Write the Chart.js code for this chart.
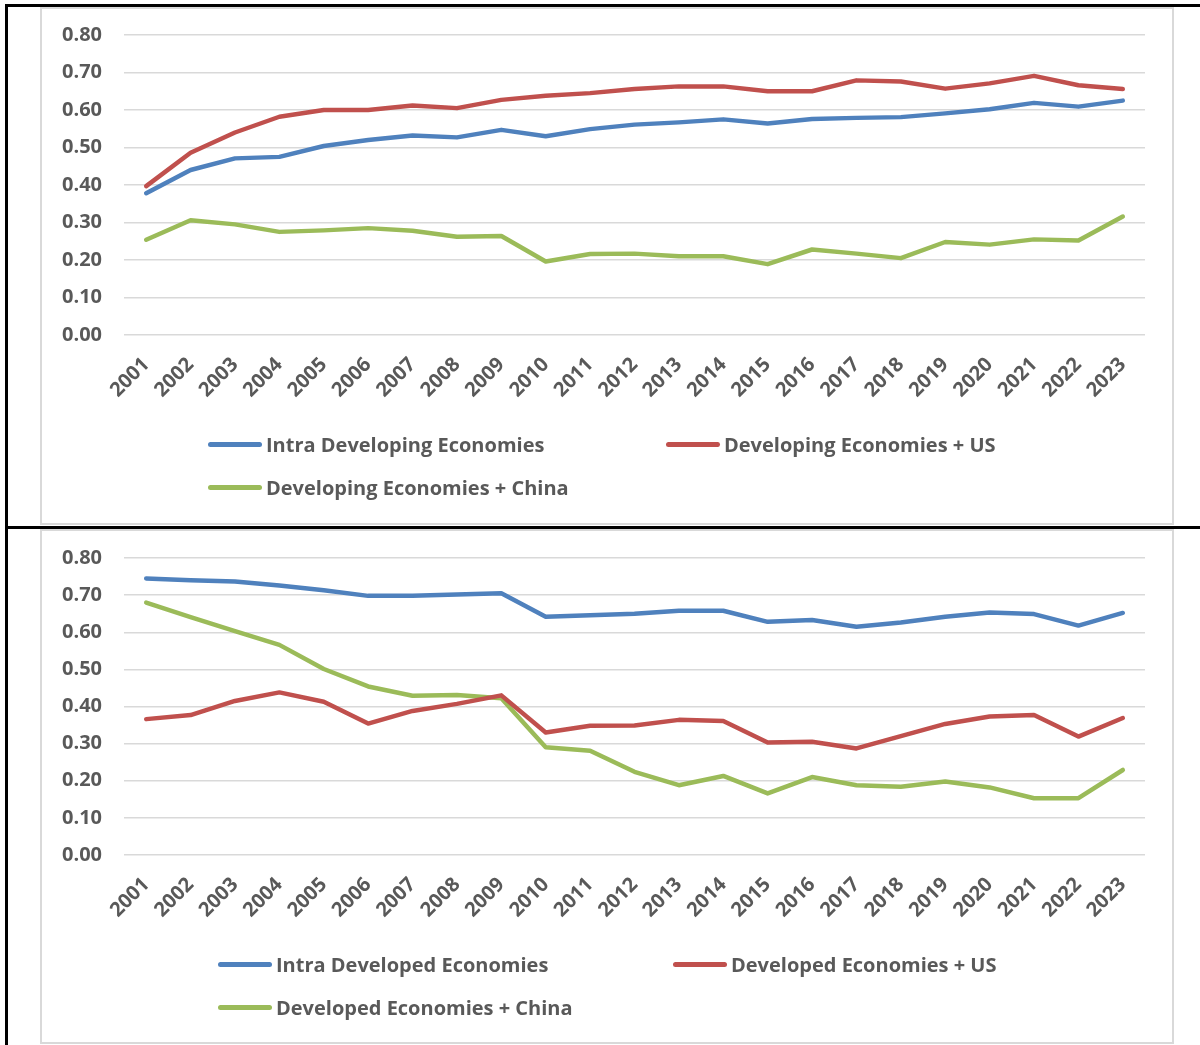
<!DOCTYPE html>
<html>
<head>
<meta charset="utf-8">
<script src="https://cdn.jsdelivr.net/npm/chart.js"></script>
<style>
  body { margin: 0; background: #fff; width: 1200px; height: 1045px; position: relative; overflow: hidden; font-family: "Open Sans", sans-serif; }
  .rule { position: absolute; background: #000; }
  .frame { position: absolute; border: 2px solid #d9d9d9; box-sizing: border-box; background: #fff; }
  .box { position: absolute; }
  .leg { position: absolute; display: flex; align-items: center; color: #595959; font-size: 20px; font-weight: 700; white-space: nowrap; }
  .leg span.line { display: inline-block; width: 54px; height: 5px; border-radius: 3px; margin-right: 4px; }
</style>
</head>
<body>
<div class="rule" style="left:5px; top:4px; width:1195px; height:3px;"></div>
<div class="rule" style="left:5px; top:4px; width:3px; height:1041px;"></div>
<div class="rule" style="left:5px; top:526px; width:1195px; height:3px;"></div>

<div class="frame" style="left:40px; top:7px; width:1134px; height:518px;"></div>
<div class="frame" style="left:40px; top:529px; width:1134px; height:515px;"></div>

<div class="box" style="left:42px; top:7px; width:1130px; height:516px;"><canvas id="developingChart"></canvas></div>
<div class="box" style="left:42px; top:530px; width:1130px; height:512px;"><canvas id="developedChart"></canvas></div>

<div id="developingLegend"></div>
<div id="developedLegend"></div>

<script>
const years = ['2001','2002','2003','2004','2005','2006','2007','2008','2009','2010','2011','2012',
    '2013','2014','2015','2016','2017','2018','2019','2020','2021','2022','2023']

// top panel
const intraDeveloping = [0.378,0.440,0.471,0.475,0.504,0.520,0.532,0.527,0.547,0.530,0.549,0.561,
    0.567,0.575,0.564,0.576,0.579,0.581,0.591,0.602,0.619,0.609,0.625]
const developingUS = [0.397,0.486,0.540,0.582,0.600,0.600,0.612,0.605,0.627,0.638,0.645,0.656,
    0.663,0.663,0.650,0.650,0.679,0.676,0.657,0.671,0.691,0.666,0.656]
const developingChina = [0.254,0.306,0.295,0.275,0.279,0.285,0.278,0.262,0.264,0.196,0.216,0.217,
    0.210,0.210,0.189,0.228,0.217,0.205,0.248,0.241,0.255,0.252,0.316]

// bottom panel
const intraDeveloped = [0.745,0.740,0.737,0.726,0.713,0.698,0.698,0.702,0.705,0.642,0.646,0.650,
    0.658,0.658,0.628,0.633,0.615,0.626,0.642,0.653,0.649,0.618,0.652]
const developedUS = [0.366,0.377,0.415,0.438,0.413,0.354,0.388,0.407,0.430,0.330,0.348,0.349,
    0.364,0.361,0.303,0.305,0.287,0.320,0.353,0.373,0.377,0.319,0.369]
const developedChina = [0.680,0.641,0.603,0.566,0.501,0.454,0.429,0.431,0.422,0.290,0.281,0.224,
    0.188,0.213,0.166,0.210,0.188,0.184,0.198,0.182,0.153,0.153,0.229]

const yTicks = [0,0.1,0.2,0.3,0.4,0.5,0.6,0.7,0.8]

const blue = '#4f81bd'
const red = '#c0504d'
const green = '#9bbb59'
const tickFont = { family: 'Open Sans', size: 20, weight: 'bold' }

function lineChart(canvasId, series, names, padTop, padBottom){
    const colors = [blue, red, green]
    const data = {
        labels: years,
        datasets: series.map((s, i) => {
            return {
                label: names[i],
                data: s,
                borderColor: colors[i],
                backgroundColor: colors[i],
                borderWidth: 4.5,
                borderCapStyle: 'round',
                borderJoinStyle: 'round',
                pointRadius: 0,
                tension: 0
            }
        })
    }

    const config = {
        type: 'line',
        data: data,
        options: {
            responsive: true,
            maintainAspectRatio: false,
            animation: false,
            layout: { padding: { left: 0, right: 27, top: padTop, bottom: padBottom } },
            plugins: {
                legend: { display: false },
                tooltip: { enabled: false }
            },
            scales: {
                x: {
                    offset: true,
                    grid: { display: false, drawTicks: false },
                    border: { display: false },
                    ticks: { color: '#595959', font: tickFont, minRotation: 45, maxRotation: 45, padding: 18, autoSkip: false },
                    afterFit: (scale) => {
                        scale.height = 100
                        scale.paddingLeft = 0
                        scale.paddingRight = 0
                    }
                },
                y: {
                    min: 0,
                    max: 0.8,
                    afterBuildTicks: (scale) => { scale.ticks = yTicks.map(v => ({ value: v })) },
                    grid: { color: '#d9d9d9', lineWidth: 1.5, drawTicks: false },
                    border: { display: false },
                    ticks: { color: '#595959', font: tickFont, padding: 22, callback: (v) => v.toFixed(2) },
                    afterFit: (scale) => {
                        scale.width = 82
                        scale.paddingTop = 0
                        scale.paddingBottom = 0
                    }
                }
            }
        }
    }

    return new Chart(document.getElementById(canvasId), config)
}

function htmlLegend(holderId, names, spots){
    const colors = [blue, red, green]
    let holder = document.getElementById(holderId)
    for (let i = 0; i < names.length; i++) {
        let item = document.createElement('div')
        item.className = 'leg'
        item.style.left = spots[i][0] + 'px'
        item.style.top = (spots[i][1] - 14) + 'px'
        item.style.height = '28px'

        let line = document.createElement('span')
        line.className = 'line'
        line.style.background = colors[i]
        item.appendChild(line)

        let text = document.createTextNode(names[i])
        item.appendChild(text)
        holder.appendChild(item)
    }
}

const developingNames = ['Intra Developing Economies', 'Developing Economies + US', 'Developing Economies + China']
const developedNames = ['Intra Developed Economies', 'Developed Economies + US', 'Developed Economies + China']

lineChart('developingChart', [intraDeveloping, developingUS, developingChina], developingNames, 28, 88)
lineChart('developedChart', [intraDeveloped, developedUS, developedChina], developedNames, 28, 87)

htmlLegend('developingLegend', developingNames, [[208, 444], [666, 444], [208, 487]])
htmlLegend('developedLegend', developedNames, [[218, 964], [673, 964], [218, 1007]])
</script>
</body>
</html>
